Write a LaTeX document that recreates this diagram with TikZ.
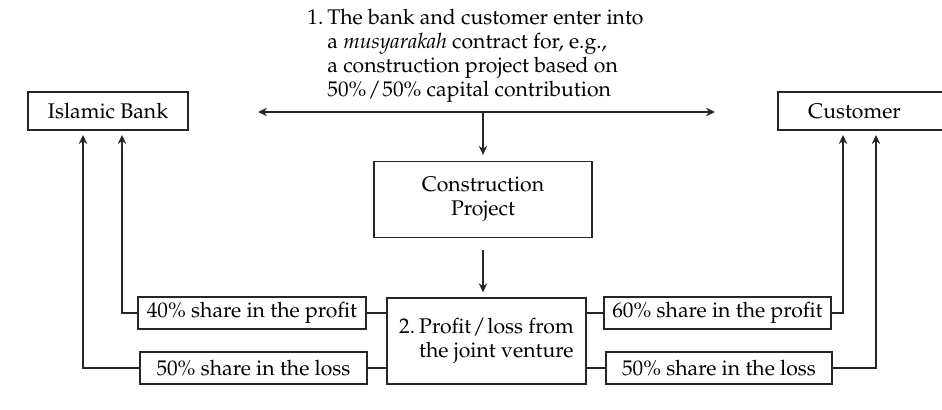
\documentclass[tikz,border=0pt]{standalone}
\usepackage[T1]{fontenc}
\usepackage{mathpazo}
\usetikzlibrary{arrows.meta}
\newcommand{\slsh}{\kern0.8pt/\kern0.8pt}
\begin{document}
\begin{tikzpicture}[x=0.5pt,y=-0.5pt,
  font=\fontsize{10.6}{12}\selectfont,
  box/.style={draw=black!85, line width=0.65pt, inner sep=0pt, align=center},
  smallbox/.style={box, minimum height=16pt},
  ln/.style={draw=black!85, line width=0.65pt},
  arr/.style={ln, -{Stealth[length=4.5pt,width=4.2pt]}},
  darr/.style={ln, {Stealth[length=4.5pt,width=4.2pt]}-{Stealth[length=4.5pt,width=4.2pt]}}]
\useasboundingbox (0,0) rectangle (942,410);

% main boxes
\node[box, minimum width=80pt, minimum height=19pt] (bank) at (108,111) {Islamic Bank};
\node[box, minimum width=84pt, minimum height=19pt] (cust) at (862,111) {Customer\hspace*{7.5pt}};
\node[box, minimum width=109pt, minimum height=38pt] (proj) at (483,199.5) {Construction\\Project};
\node[box, minimum width=99.5pt, minimum height=43pt] (pl) at (486.5,341)
  {\begin{tabular}{@{}l@{}l@{}}\makebox[10pt][l]{2.} & Profit\slsh loss from\\ & the joint venture\end{tabular}};

% share boxes
\node[smallbox, minimum width=114pt] (p40) at (252,313) {40\% share in the profit};
\node[smallbox, minimum width=113.5pt] (l50L) at (253.5,368) {50\% share in the loss};
\node[smallbox, minimum width=113.5pt] (p60) at (717.5,313) {60\% share in the profit};
\node[smallbox, minimum width=113pt] (l50R) at (719,368) {50\% share in the loss};

% top text
\node[anchor=base west, inner sep=0pt] (txt) at (307,25)
  {\begin{tabular}[t]{@{}l@{}l@{}}\makebox[10pt][l]{1.} & The bank and customer enter into\\
   & a \textit{musyarakah} contract for, e.g.,\\
   & a construction project based on\\
   & 50\%\slsh 50\% capital contribution\end{tabular}};

% coordinates
\coordinate (hL) at (258,112);
\coordinate (hR) at (715,112);
\coordinate (hub) at (483,112);
\coordinate (b40) at (122,130);
\coordinate (b50) at (83,130);
\coordinate (c60) at (843,130);
\coordinate (c50) at (876,130);

% connectors
\draw[darr] (hL) -- (hR);
\draw[arr, shorten >=3pt] (hub) -- (proj.north);
\draw[arr, shorten <=6pt, shorten >=2.5pt] (proj.south) -- (proj.south |- pl.north);

\draw[ln] (p40.east) -- (p40.east -| pl.west);
\draw[ln] (l50L.east) -- (l50L.east -| pl.west);
\draw[ln] (pl.east |- p60.west) -- (p60.west);
\draw[ln] (pl.east |- l50R.west) -- (l50R.west);

\draw[arr, shorten >=2.5pt] (p40.west) -| (b40);
\draw[arr, shorten >=2.5pt] (l50L.west) -| (b50);
\draw[arr, shorten >=2.5pt] (p60.east) -| (c60);
\draw[arr, shorten >=2.5pt] (l50R.east) -| (c50);
\end{tikzpicture}
\end{document}
